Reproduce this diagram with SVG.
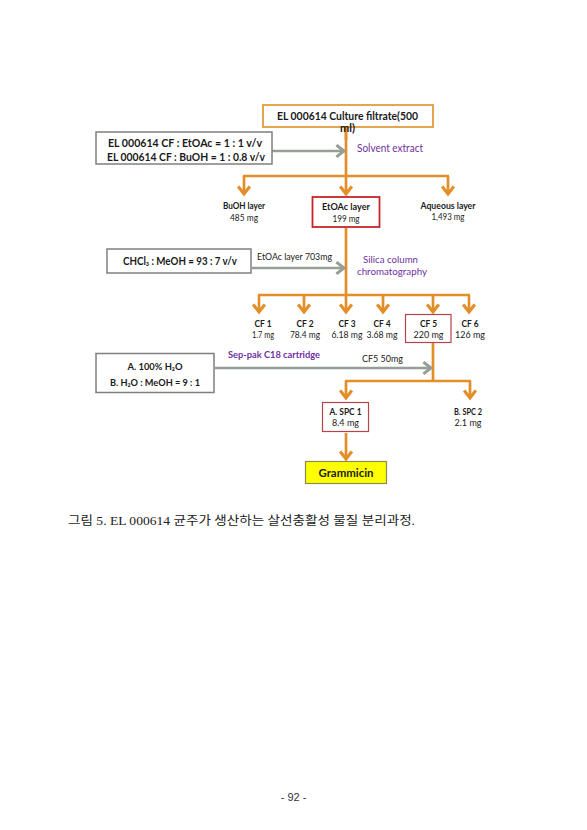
<svg xmlns="http://www.w3.org/2000/svg" width="587" height="830" viewBox="0 0 587 830">
<style>
.b{font-family:Lato,"Liberation Sans",sans-serif;font-weight:bold;fill:#1a1a1a}
.r{font-family:Lato,"Liberation Sans",sans-serif;fill:#1a1a1a}
.p{font-family:Lato,"Liberation Sans",sans-serif;fill:#7030A0}
.o{stroke:#E48E2A;stroke-width:2.7;fill:none}
.g{stroke:#959F95;stroke-width:2.6;fill:none}
.gb{fill:#fff;stroke:#7F7F7F;stroke-width:1.5}
.rb{fill:#fff;stroke:#B5454B;stroke-width:1.2}
</style>
<defs>
<marker id="ao" markerUnits="userSpaceOnUse" markerWidth="14" markerHeight="14" viewBox="0 0 10 12" refX="7.5" refY="6" orient="auto"><path d="M1,1 L7.5,6 L1,11" fill="none" stroke="#E48E2A" stroke-width="2.7"/></marker>
<marker id="ag" markerUnits="userSpaceOnUse" markerWidth="14" markerHeight="14" viewBox="0 0 10 12" refX="7.5" refY="6" orient="auto"><path d="M1,1 L7.5,6 L1,11" fill="none" stroke="#959F95" stroke-width="2.6"/></marker>
</defs>
<rect width="587" height="830" fill="#fff"/>

<g id="connectors">
<line class="o" x1="346" y1="127" x2="346" y2="176"/>
<line class="o" x1="243" y1="176" x2="449" y2="176"/>
<line class="o" x1="244" y1="176" x2="244" y2="194" marker-end="url(#ao)"/>
<line class="o" x1="346" y1="176" x2="346" y2="194" marker-end="url(#ao)"/>
<line class="o" x1="448" y1="176" x2="448" y2="194" marker-end="url(#ao)"/>
<line class="o" x1="346" y1="228" x2="346" y2="295"/>
<line class="o" x1="258" y1="295" x2="470" y2="295"/>
<line class="o" x1="259" y1="295" x2="259" y2="312" marker-end="url(#ao)"/>
<line class="o" x1="304" y1="295" x2="304" y2="312" marker-end="url(#ao)"/>
<line class="o" x1="346" y1="295" x2="346" y2="312" marker-end="url(#ao)"/>
<line class="o" x1="383" y1="295" x2="383" y2="312" marker-end="url(#ao)"/>
<line class="o" x1="433" y1="295" x2="433" y2="312" marker-end="url(#ao)"/>
<line class="o" x1="469" y1="295" x2="469" y2="312" marker-end="url(#ao)"/>
<line class="o" x1="433" y1="343" x2="433" y2="382"/>
<line class="o" x1="345" y1="381" x2="471" y2="381"/>
<line class="o" x1="346" y1="381" x2="346" y2="398" marker-end="url(#ao)"/>
<line class="o" x1="470" y1="381" x2="470" y2="398" marker-end="url(#ao)"/>
<line class="o" x1="346" y1="433" x2="346" y2="459" marker-end="url(#ao)"/>
<line class="g" x1="272" y1="151" x2="344" y2="151" marker-end="url(#ag)"/>
<line class="g" x1="252" y1="268" x2="344" y2="268" marker-end="url(#ag)"/>
<line class="g" x1="215" y1="368" x2="431" y2="368" marker-end="url(#ag)"/>
</g>

<g id="culture-filtrate">
<rect x="263" y="105" width="170" height="22" fill="#fff" stroke="#E39B3F" stroke-width="1.8"/>
<text class="b" x="347.5" y="120" font-size="10.5" text-anchor="middle" textLength="141" lengthAdjust="spacingAndGlyphs">EL 000614  Culture filtrate(500</text>
</g>
<line class="o" x1="346" y1="127" x2="346" y2="140"/>
<text class="b" x="347.5" y="132" font-size="10.5" text-anchor="middle" textLength="15" lengthAdjust="spacingAndGlyphs">ml)</text>

<g id="solvent-conditions">
<rect class="gb" x="96" y="132" width="176" height="32"/>
<text class="b" x="185" y="147" font-size="10.5" text-anchor="middle" textLength="154" lengthAdjust="spacingAndGlyphs">EL 000614  CF : EtOAc  = 1 : 1 v/v</text>
<text class="b" x="186" y="161" font-size="10.5" text-anchor="middle" textLength="158" lengthAdjust="spacingAndGlyphs">EL 000614  CF : BuOH = 1 : 0.8 v/v</text>
</g>
<g id="solvent-extract"><text class="p" x="357" y="152" font-size="10.5" textLength="66" lengthAdjust="spacingAndGlyphs">Solvent extract</text></g>

<g id="buoh">
<text class="b" x="244" y="209" font-size="9" text-anchor="middle" textLength="42" lengthAdjust="spacingAndGlyphs">BuOH layer</text>
<text class="r" x="244" y="221" font-size="9" text-anchor="middle" textLength="28" lengthAdjust="spacingAndGlyphs">485 mg</text>
</g>
<g id="etoac">
<rect x="312.5" y="197" width="67" height="30" fill="#fff" stroke="#C8242B" stroke-width="1.8"/>
<text class="b" x="346" y="210" font-size="9.5" text-anchor="middle" textLength="48" lengthAdjust="spacingAndGlyphs">EtOAc layer</text>
<text class="r" x="346" y="222" font-size="9.5" text-anchor="middle" textLength="27" lengthAdjust="spacingAndGlyphs">199 mg</text>
</g>
<g id="aqueous">
<text class="b" x="448" y="209" font-size="9" text-anchor="middle" textLength="55" lengthAdjust="spacingAndGlyphs">Aqueous  layer</text>
<text class="r" x="448" y="220" font-size="8.5" text-anchor="middle" textLength="33" lengthAdjust="spacingAndGlyphs">1,493 mg</text>
</g>

<g id="chcl3-meoh">
<rect class="gb" x="107" y="249" width="144" height="24"/>
<text class="b" x="180" y="265" font-size="10.5" text-anchor="middle" textLength="114" lengthAdjust="spacingAndGlyphs">CHCl₃ : MeOH = 93 : 7 v/v</text>
</g>
<g id="etoac-703"><text class="r" x="257" y="260" font-size="9.5" textLength="75" lengthAdjust="spacingAndGlyphs">EtOAc layer 703mg</text></g>
<g id="silica">
<text class="p" x="363" y="263" font-size="10" textLength="55" lengthAdjust="spacingAndGlyphs">Silica column</text>
<text class="p" x="357" y="275" font-size="10" textLength="70" lengthAdjust="spacingAndGlyphs">chromatography</text>
</g>

<g id="cf1"><text class="b" x="263" y="327" font-size="8.5" text-anchor="middle" textLength="17" lengthAdjust="spacingAndGlyphs">CF 1</text><text class="r" x="263" y="338" font-size="8.5" text-anchor="middle" textLength="22" lengthAdjust="spacingAndGlyphs">1.7 mg</text></g>
<g id="cf2"><text class="b" x="305" y="327" font-size="8.5" text-anchor="middle" textLength="17" lengthAdjust="spacingAndGlyphs">CF 2</text><text class="r" x="305" y="338" font-size="8.5" text-anchor="middle" textLength="30" lengthAdjust="spacingAndGlyphs">78.4 mg</text></g>
<g id="cf3"><text class="b" x="347" y="327" font-size="8.5" text-anchor="middle" textLength="17" lengthAdjust="spacingAndGlyphs">CF 3</text><text class="r" x="347" y="338" font-size="8.5" text-anchor="middle" textLength="31" lengthAdjust="spacingAndGlyphs">6.18 mg</text></g>
<g id="cf4"><text class="b" x="382" y="327" font-size="8.5" text-anchor="middle" textLength="17" lengthAdjust="spacingAndGlyphs">CF 4</text><text class="r" x="382" y="338" font-size="8.5" text-anchor="middle" textLength="31" lengthAdjust="spacingAndGlyphs">3.68 mg</text></g>
<g id="cf5">
<rect class="rb" x="405.5" y="314.5" width="45.5" height="28"/>
<text class="b" x="428.5" y="327" font-size="8.5" text-anchor="middle" textLength="17" lengthAdjust="spacingAndGlyphs">CF 5</text><text class="r" x="428.5" y="338" font-size="8.5" text-anchor="middle" textLength="30" lengthAdjust="spacingAndGlyphs">220 mg</text>
</g>
<g id="cf6"><text class="b" x="470" y="327" font-size="8.5" text-anchor="middle" textLength="17" lengthAdjust="spacingAndGlyphs">CF 6</text><text class="r" x="470" y="338" font-size="8.5" text-anchor="middle" textLength="30" lengthAdjust="spacingAndGlyphs">126 mg</text></g>

<g id="eluents">
<rect class="gb" x="96" y="353.5" width="118" height="39"/>
<text class="b" x="155" y="369.5" font-size="9.5" text-anchor="middle" textLength="55" lengthAdjust="spacingAndGlyphs">A. 100% H₂O</text>
<text class="b" x="155" y="386" font-size="9.5" text-anchor="middle" textLength="90" lengthAdjust="spacingAndGlyphs">B. H₂O : MeOH = 9 : 1</text>
</g>
<g id="sep-pak"><text class="p" x="228" y="358" font-size="9.5" font-weight="bold" textLength="92" lengthAdjust="spacingAndGlyphs">Sep-pak C18 cartridge</text></g>
<g id="cf5-50mg"><text class="r" x="362" y="362" font-size="10" textLength="41" lengthAdjust="spacingAndGlyphs">CF5 50mg</text></g>

<g id="spc1">
<rect class="rb" x="322.5" y="402.5" width="46" height="29"/>
<text class="b" x="345.5" y="415" font-size="8.5" text-anchor="middle" textLength="32" lengthAdjust="spacingAndGlyphs">A. SPC 1</text>
<text class="r" x="345.5" y="426" font-size="8.5" text-anchor="middle" textLength="27" lengthAdjust="spacingAndGlyphs">8.4 mg</text>
</g>
<g id="spc2">
<text class="b" x="468" y="415" font-size="8.5" text-anchor="middle" textLength="28" lengthAdjust="spacingAndGlyphs">B. SPC 2</text>
<text class="r" x="468" y="426" font-size="8.5" text-anchor="middle" textLength="27" lengthAdjust="spacingAndGlyphs">2.1 mg</text>
</g>
<g id="grammicin">
<rect x="305.5" y="461.5" width="81" height="22" fill="#FFFF00" stroke="#8C8C50" stroke-width="1.2"/>
<text class="b" x="346" y="476.5" font-size="11" text-anchor="middle" textLength="55" lengthAdjust="spacingAndGlyphs">Grammicin</text>
</g>

<g id="caption"><text x="68" y="525" font-family="'Liberation Serif','Noto Sans CJK KR',serif" font-size="12.5" fill="#222" textLength="347" lengthAdjust="spacingAndGlyphs">그림 5. EL 000614 균주가 생산하는 살선충활성 물질 분리과정.</text></g>
<g id="page-number"><text x="293.5" y="801" font-family="'Liberation Sans',sans-serif" font-size="11" fill="#333" text-anchor="middle">- 92 -</text></g>
</svg>
